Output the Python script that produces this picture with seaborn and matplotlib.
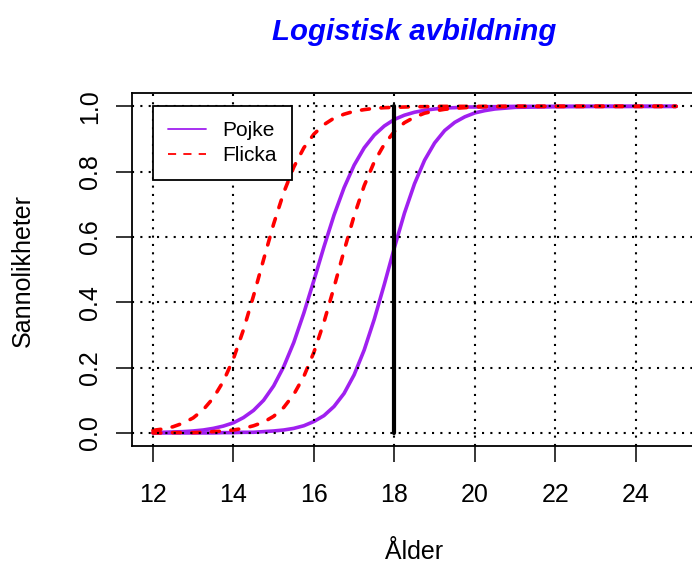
import numpy as np
import pandas as pd
import matplotlib
matplotlib.use('Agg')
import matplotlib.pyplot as plt
from matplotlib.lines import Line2D
import seaborn as sns

# Ålder (x) och avlästa sannolikheter för de fyra kurvorna
ages = [12, 12.25, 12.5, 12.75, 13, 13.25, 13.5, 13.75, 14, 14.25, 14.5, 14.75,
        15, 15.25, 15.5, 15.75, 16, 16.25, 16.5, 16.75, 17, 17.25, 17.5, 17.75,
        18, 18.25, 18.5, 18.75, 19, 19.25, 19.5, 19.75, 20, 20.25, 20.5,
        21, 22, 23, 24, 25]
pojke_1 = [0.001, 0.002, 0.003, 0.004, 0.006, 0.009, 0.014, 0.021, 0.031, 0.047,
           0.069, 0.100, 0.144, 0.203, 0.277, 0.367, 0.467, 0.570, 0.667, 0.751,
           0.820, 0.873, 0.912, 0.940, 0.960, 0.973, 0.982, 0.988, 0.992, 0.995,
           0.996, 0.998, 0.998, 0.999, 0.999, 1.000, 1.000, 1.000, 1.000, 1.000]
pojke_2 = [0.000, 0.000, 0.000, 0.000, 0.000, 0.000, 0.000, 0.001, 0.001, 0.002,
           0.002, 0.004, 0.006, 0.009, 0.014, 0.022, 0.035, 0.053, 0.081, 0.121,
           0.178, 0.254, 0.348, 0.455, 0.567, 0.673, 0.763, 0.835, 0.888, 0.926,
           0.951, 0.968, 0.980, 0.987, 0.992, 0.997, 0.999, 1.000, 1.000, 1.000]
flicka_1 = [0.008, 0.012, 0.019, 0.030, 0.046, 0.071, 0.107, 0.158, 0.227, 0.316,
            0.420, 0.531, 0.640, 0.736, 0.814, 0.873, 0.915, 0.944, 0.964, 0.976,
            0.985, 0.990, 0.994, 0.996, 0.997, 0.998, 0.999, 0.999, 1.000, 1.000,
            1.000, 1.000, 1.000, 1.000, 1.000, 1.000, 1.000, 1.000, 1.000, 1.000]
flicka_2 = [0.000, 0.000, 0.001, 0.001, 0.001, 0.002, 0.004, 0.006, 0.009, 0.014,
            0.022, 0.033, 0.051, 0.078, 0.118, 0.173, 0.247, 0.339, 0.446, 0.558,
            0.665, 0.757, 0.830, 0.884, 0.923, 0.950, 0.967, 0.979, 0.986, 0.991,
            0.994, 0.996, 0.998, 0.999, 0.999, 1.000, 1.000, 1.000, 1.000, 1.000]
cutoff_age = 18
x_ticks = [12, 14, 16, 18, 20, 22, 24]
y_ticks = [0.0, 0.2, 0.4, 0.6, 0.8, 1.0]
legend_labels = ['Pojke', 'Flicka']

sns.set_style('white')
plt.rcParams['font.family'] = ['Liberation Sans', 'DejaVu Sans']
plt.rcParams['text.color'] = 'black'

purple = '#A020F0'
red = '#FF0000'

fig = plt.figure(figsize=(6.92, 5.65), dpi=100)
ax = fig.add_axes([132 / 692, 1 - 446 / 565, 565 / 692, 352.7 / 565])

df = pd.DataFrame({'age': ages, 'p1': pojke_1, 'p2': pojke_2,
                   'f1': flicka_1, 'f2': flicka_2})

for col in ['p1', 'p2']:
    sns.lineplot(data=df, x='age', y=col, ax=ax, color=purple, lw=2.6,
                 legend=False, solid_capstyle='round')
for col in ['f1', 'f2']:
    sns.lineplot(data=df, x='age', y=col, ax=ax, color=red, lw=2.6,
                 legend=False, dashes=False)
    ax.lines[-1].set_dashes((2.2, 3.2))
    ax.lines[-1].set_dash_capstyle('round')

ax.plot([cutoff_age, cutoff_age], [y_ticks[0], y_ticks[-1]], color='black', lw=3)

ax.set_xlim(11.48, 25.52)
ax.set_ylim(-0.04, 1.04)
ax.set_xticks(x_ticks)
ax.set_yticks(y_ticks)
ax.set_yticklabels(['%.1f' % v for v in y_ticks], rotation=90, va='center')
ax.set_xlabel('')
ax.set_ylabel('')

ax.grid(True, color='black', linestyle=(0, (1, 3)), lw=1.5)
ax.set_axisbelow(False)
ax.tick_params(axis='both', direction='out', length=11.5, width=1.1,
               color='black', labelsize=18, labelcolor='black')
ax.tick_params(axis='x', pad=15, bottom=True)
ax.tick_params(axis='y', pad=10, left=True)
for s in ax.spines.values():
    s.set_visible(True)
    s.set_color('black')
    s.set_linewidth(1.3)

handles = [Line2D([], [], color=purple, lw=1.3),
           Line2D([], [], color=red, lw=1.3, dashes=(4.5, 4))]
leg = ax.legend(handles, legend_labels, loc='upper left',
                bbox_to_anchor=(12, 1.0), bbox_transform=ax.transData,
                borderaxespad=0, fancybox=False, framealpha=1, edgecolor='black',
                fontsize=15, handlelength=1.85, handletextpad=0.8,
                borderpad=0.7, labelspacing=0.3, labelcolor='black')
leg.get_frame().set_linewidth(1.3)
leg.set_zorder(5)

fig.text(414 / 692, 1 - 32 / 565, 'Logistisk avbildning', color='blue',
         fontsize=21.2, fontweight='bold', fontstyle='italic', ha='center', va='center')
fig.text(414 / 692, 1 - 552 / 565, 'Ålder', fontsize=18, color='black',
         ha='center', va='center')
fig.text(23 / 692, 1 - 270 / 565, 'Sannolikheter', fontsize=18, rotation=90,
         color='black', ha='center', va='center')

fig.savefig('out.png', dpi=100)
